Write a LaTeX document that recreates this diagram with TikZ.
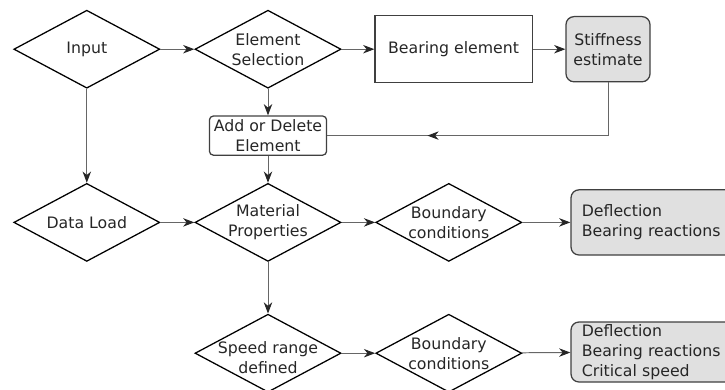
\documentclass[tikz,border=0pt]{standalone}
\usepackage{fontspec}
\setmainfont{DejaVu Sans}
\usetikzlibrary{shapes.geometric,arrows.meta,decorations.markings}

\begin{document}
\begin{tikzpicture}[
    >={Stealth[length=8pt,width=6pt,inset=2.5pt,color=black!85]},
    font=\fontsize{11.2}{14.2}\selectfont,
    txt/.style={align=center, text=black!85},
    decision/.style={draw, diamond, line width=0.9pt, minimum width=3.65cm, minimum height=1.95cm, inner sep=0pt},
    block/.style={draw=black!75, rectangle, line width=0.9pt, txt},
    result/.style={block, rounded corners=0.2cm, fill=black!12},
    output/.style={result, align=left, text width=3.7cm, inner xsep=0.27cm, inner ysep=1pt},
    flow/.style={->, draw=black!60, line width=0.7pt},
    back/.style={draw=black!60, line width=0.7pt, postaction={decorate},
        decoration={markings, mark=at position 0.7 with {\arrow{>}}}}
]
    \useasboundingbox (0, 0) rectangle (18.125, -9.725);

    \node[decision, label={[txt]center:Input}] (input) at (2.17, -1.23) {};
    \node[decision, label={[txt]center:Element\\Selection}] (elsel) at (6.7, -1.23) {};
    \node[block, minimum width=3.93cm, minimum height=1.68cm] (bearing) at (11.34, -1.23) {Bearing element};
    \node[result, minimum width=2.1cm, minimum height=1.63cm, inner sep=1pt] (stiff) at (15.2, -1.23) {Stiffness\\estimate};
    \node[block, rounded corners=0.1cm, minimum width=2.93cm, minimum height=0.98cm, inner sep=1pt] (adddel) at (6.7, -3.39) {Add or Delete\\Element};

    \node[decision, label={[txt]center:Data Load}] (dataload) at (2.17, -5.56) {};
    \node[decision, label={[txt]center:Material\\Properties}] (matprop) at (6.7, -5.56) {};
    \node[decision, label={[txt]center:Boundary\\conditions}] (bound1) at (11.22, -5.56) {};
    \node[output, minimum height=1.63cm] (out1) at (16.395, -5.56) {Deflection\\Bearing reactions};

    \node[decision, label={[txt, yshift=-0.12cm]center:Speed range\\defined}] (speed) at (6.7, -8.83) {};
    \node[decision, label={[txt]center:Boundary\\conditions}] (bound2) at (11.22, -8.83) {};
    \node[output, minimum height=1.5cm] (out2) at (16.395, -8.8) {Deflection\\Bearing reactions\\Critical speed};

    \draw[flow] (input) -- (elsel);
    \draw[flow] (elsel) -- (bearing);
    \draw[flow] (bearing) -- (stiff);
    \draw[flow] (elsel) -- (adddel);
    \draw[back] (stiff.south) |- (adddel.east);
    \draw[flow] (adddel) -- (matprop);
    \draw[flow] (input) -- (dataload);
    \draw[flow] (dataload) -- (matprop);
    \draw[flow] (matprop) -- (bound1);
    \draw[flow] (bound1) -- (out1);
    \draw[flow] (matprop) -- (speed);
    \draw[flow] (speed) -- (bound2);
    \draw[flow] (bound2) -- (out2);
\end{tikzpicture}
\end{document}
